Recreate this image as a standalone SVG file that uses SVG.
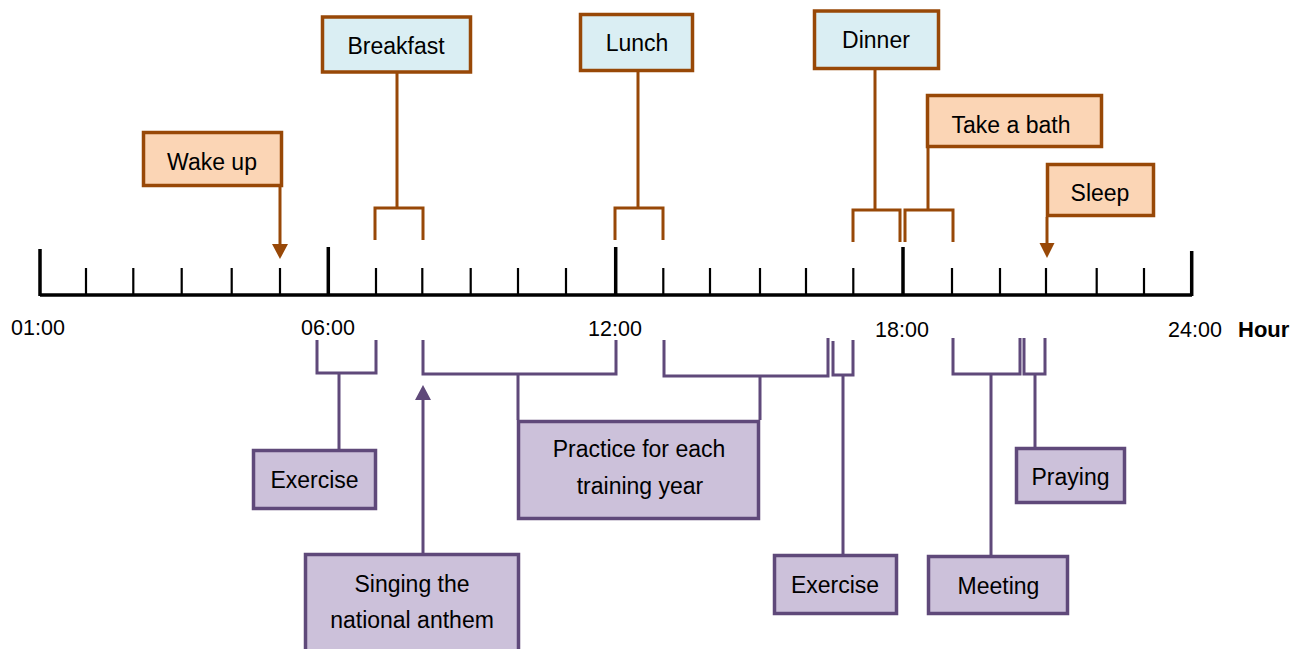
<svg xmlns="http://www.w3.org/2000/svg" width="1304" height="649" viewBox="0 0 1304 649">
<defs>
<style>
.lbl{font-family:"Liberation Sans",Arial,sans-serif;font-size:23px;fill:#000;text-anchor:middle}
.time{font-family:"Liberation Sans",Arial,sans-serif;font-size:21.5px;fill:#000;text-anchor:middle}
.hour{font-family:"Liberation Sans",Arial,sans-serif;font-size:22px;font-weight:bold;fill:#000}
.meal{fill:#DAEEF3;stroke:#984807;stroke-width:3.5}
.act{fill:#FBD5B5;stroke:#984807;stroke-width:3.5}
.duty{fill:#CCC1DA;stroke:#5F497A;stroke-width:3.5}
.bc{fill:none;stroke:#984807;stroke-width:3}
.pc{fill:none;stroke:#5F497A;stroke-width:3}
.bh{fill:#984807}
.ph{fill:#5F497A}
.axis{fill:none;stroke:#000;stroke-width:3.5}
.minor{fill:none;stroke:#000;stroke-width:2.2}
</style>
</defs>

<g id="axis">
<path class="axis" d="M40,295 H1192"/>
<path class="axis" d="M40,249 V296 M328.3,247 V296 M615.7,247 V296 M903,247 V296 M1191.7,251 V296"/>
<path class="minor" d="M86,268 V295 M133.3,268 V295 M181.7,268 V295 M231.7,268 V295 M280,268 V295 M376,268 V295 M422.3,268 V295 M470.7,268 V295 M518,268 V295 M566,268 V295 M663.3,268 V295 M710,268 V295 M760,268 V295 M806,268 V295 M853.3,268 V295 M952,268 V295 M1000,268 V295 M1046,268 V295 M1096.7,268 V295 M1144,268 V295"/>
<text class="time" x="38" y="335">01:00</text>
<text class="time" x="328" y="335">06:00</text>
<text class="time" x="615" y="336">12:00</text>
<text class="time" x="902" y="337">18:00</text>
<text class="time" x="1195" y="337">24:00</text>
<text class="hour" x="1238" y="337">Hour</text>
</g>

<g id="connectors">
<path class="bc" d="M280,187 V246"/>
<polygon class="bh" points="272,244 288,244 280,259"/>
<path class="bc" d="M1047,217 V245"/>
<polygon class="bh" points="1039.5,243 1054.5,243 1047,258"/>
<path class="bc" d="M397,73 V208 M375,240 V208 H423 V240"/>
<path class="bc" d="M638,72 V208 M615,240 V208 H663 V240"/>
<path class="bc" d="M875,70 V210 M853,242 V210 H900 V242"/>
<path class="bc" d="M928,148 V210 M905,242 V210 H953 V242"/>
<path class="pc" d="M317,340 V373 H376 V340 M339,373 V450"/>
<path class="pc" d="M423,553 V398"/>
<polygon class="ph" points="415,400 431,400 423,385"/>
<path class="pc" d="M423,340 V374 H616 V340 M518,374 V420"/>
<path class="pc" d="M664,340 V376 H828 V338 M760,376 V420"/>
<path class="pc" d="M833,341 V375 H853 V340 M843,375 V555"/>
<path class="pc" d="M953,338 V374 H1020 V338 M991,374 V555"/>
<path class="pc" d="M1024,338 V374 H1045 V338 M1035,374 V447"/>
</g>

<g id="breakfast"><rect class="meal" x="322.5" y="17" width="148" height="55"/><text class="lbl" x="396" y="54">Breakfast</text></g>
<g id="lunch"><rect class="meal" x="580.5" y="14.5" width="112" height="56"/><text class="lbl" x="637" y="51">Lunch</text></g>
<g id="dinner"><rect class="meal" x="814.5" y="11" width="124" height="57.5"/><text class="lbl" x="876" y="48">Dinner</text></g>
<g id="wakeup"><rect class="act" x="143.5" y="132.5" width="138" height="53"/><text class="lbl" x="212" y="170">Wake up</text></g>
<g id="bath"><rect class="act" x="927.5" y="95.5" width="174" height="51"/><text class="lbl" x="1011" y="133">Take a bath</text></g>
<g id="sleep"><rect class="act" x="1047.5" y="164.5" width="106" height="51"/><text class="lbl" x="1100" y="201">Sleep</text></g>

<g id="exercise1"><rect class="duty" x="253.5" y="450.5" width="122" height="58"/><text class="lbl" x="314.5" y="488">Exercise</text></g>
<g id="anthem"><rect class="duty" x="305.5" y="554.5" width="213" height="100"/><text class="lbl" x="412" y="592">Singing the</text><text class="lbl" x="412" y="628">national anthem</text></g>
<g id="practice"><rect class="duty" x="518.5" y="421.5" width="240" height="97"/><text class="lbl" x="639" y="457">Practice for each</text><text class="lbl" x="640" y="494">training year</text></g>
<g id="exercise2"><rect class="duty" x="774.5" y="555.5" width="122" height="58"/><text class="lbl" x="835" y="593">Exercise</text></g>
<g id="meeting"><rect class="duty" x="928.5" y="556.5" width="139" height="57"/><text class="lbl" x="998.5" y="594">Meeting</text></g>
<g id="praying"><rect class="duty" x="1016.5" y="448.5" width="108" height="54"/><text class="lbl" x="1070.5" y="485">Praying</text></g>
</svg>
